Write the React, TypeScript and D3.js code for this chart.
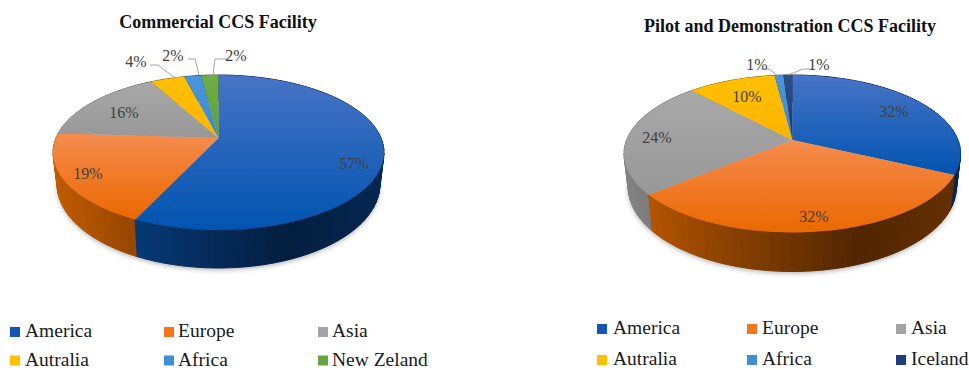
import React from "react";
import * as d3 from "d3";

// Shares shown on each pie, in percent, clockwise from twelve o'clock.
const commercialRegions = ["America", "Europe", "Asia", "Autralia", "Africa", "New Zeland"];
const commercialValues = [57, 19, 16, 4, 2, 2];
const pilotRegions = ["America", "Europe", "Asia", "Autralia", "Africa", "Iceland"];
const pilotValues = [32, 32, 24, 10, 1, 1];

const FONT = "'Liberation Serif', 'Times New Roman', serif";

type Fill = { top: string; bottom: string; wall: string; swatch: string };
const FILLS: Record<string, Fill> = {
  America: { top: "#4874c6", bottom: "#0054b0", wall: "#0a5cc0", swatch: "#1257b8" },
  Europe: { top: "#f68c4e", bottom: "#ea6800", wall: "#f27200", swatch: "#f8741a" },
  Asia: { top: "#a8a8a8", bottom: "#989898", wall: "#a5a5a5", swatch: "#a3a3a3" },
  Autralia: { top: "#ffc000", bottom: "#ffb400", wall: "#ffc000", swatch: "#ffc000" },
  Africa: { top: "#4a96dc", bottom: "#3a88d0", wall: "#3a88d0", swatch: "#3f8dd4" },
  "New Zeland": { top: "#70ad47", bottom: "#5f9e3a", wall: "#4e8a2e", swatch: "#68a540" },
  Iceland: { top: "#2f4f86", bottom: "#1a3a70", wall: "#123060", swatch: "#1c3f7c" },
};

// Wall brightness against horizontal position across the pie.
const wallShade = d3.scaleLinear().domain([0, 0.24, 0.7, 1]).range([0.8, 0.62, 0.33, 0.42]).clamp(true);

type PieLabel = { text: string; x: number; y: number; leader?: [number, number][] };

type Geometry = {
  id: string;
  cx: number;
  apexY: number;
  topY: number;
  frontY: number;
  rx: number;
  depth: number;
};

function projector(g: Geometry) {
  // Perspective map of the unit disc: the apex sits above the centre of the drawn ellipse.
  const b = g.apexY;
  const c = (2 * b - g.topY - g.frontY) / (g.frontY - g.topY);
  const a = b - g.topY + g.topY * c;
  const k = g.rx * Math.sqrt(1 - c * c);
  const top = (t: number): [number, number] => {
    const u = Math.sin(t);
    const v = -Math.cos(t);
    const den = 1 + c * v;
    return [g.cx + (k * u) / den, (b + a * v) / den];
  };
  const base = (t: number): [number, number] => {
    const [x, y] = top(t);
    const v = -Math.cos(t);
    return [g.cx + (x - g.cx) * 0.975, y + (g.depth * (1 + c)) / (1 + c * v)];
  };
  return { top, base, apex: [g.cx, b] as [number, number] };
}

function angles(start: number, end: number, stepDeg: number) {
  const n = Math.max(1, Math.ceil(((end - start) * 180) / Math.PI / stepDeg));
  return d3.range(n + 1).map((i) => start + ((end - start) * i) / n);
}

const line = d3.line<[number, number]>();

function Pie3D({ g, regions, values, labels }: { g: Geometry; regions: string[]; values: number[]; labels: PieLabel[] }) {
  const proj = projector(g);
  const slices = d3
    .pie<number>()
    .sort(null)
    .value((d) => d)(values);
  const outline = angles(0, 2 * Math.PI, 3);

  const walls = slices
    .flatMap((s) => {
      const region = regions[s.index];
      const ts = angles(s.startAngle, s.endAngle, 3);
      return ts.slice(1).map((t, i) => {
        const t0 = ts[i];
        const mid = (t + t0) / 2;
        const pos = (proj.top(mid)[0] - (g.cx - g.rx)) / (2 * g.rx);
        const col = d3.rgb(FILLS[region].wall);
        const shade = wallShade(pos);
        const fill = d3.rgb(col.r * shade, col.g * shade, col.b * shade).formatHex();
        return {
          key: `${region}-${i}`,
          order: -Math.cos(mid),
          fill,
          d: line([proj.top(t0), proj.top(t), proj.base(t), proj.base(t0)])! + "Z",
        };
      });
    })
    .sort((p, q) => p.order - q.order);

  return (
    <g>
      <defs>
        <filter id={`soft-${g.id}`} x="-10%" y="-10%" width="120%" height="120%">
          <feGaussianBlur stdDeviation="2.5" />
        </filter>
        {regions.map((r) => (
          <linearGradient key={r} id={`face-${g.id}-${r.replace(" ", "")}`} x1="0" y1="0" x2="0" y2="1">
            <stop offset="0" stopColor={FILLS[r].top} />
            <stop offset="1" stopColor={FILLS[r].bottom} />
          </linearGradient>
        ))}
      </defs>
      <path
        d={line(outline.map((t) => proj.base(t)))! + "Z"}
        transform="translate(0,2)"
        fill="#777"
        opacity={0.55}
        filter={`url(#soft-${g.id})`}
      />
      {walls.map((w) => (
        <path key={w.key} d={w.d} fill={w.fill} stroke={w.fill} strokeWidth={1} />
      ))}
      {slices.map((s) => {
        const region = regions[s.index];
        const pts = [proj.apex, ...angles(s.startAngle, s.endAngle, 2).map((t) => proj.top(t))];
        return (
          <path key={region} d={line(pts)! + "Z"} fill={`url(#face-${g.id}-${region.replace(" ", "")})`} />
        );
      })}
      {labels.map(
        (l, i) =>
          l.leader && <path key={i} d={line(l.leader)!} fill="none" stroke="#a6a6a6" strokeWidth={1} />,
      )}
      {labels.map((l, i) => (
        <text key={i} x={l.x} y={l.y} textAnchor="middle" fontFamily={FONT} fontSize={16} fill="#404040">
          {l.text}
        </text>
      ))}
    </g>
  );
}

function Legend({ regions, xs, textXs, rows, size }: { regions: string[]; xs: number[]; textXs: number[]; rows: number[]; size: number }) {
  return (
    <g>
      {regions.map((r, i) => {
        const col = i % 3;
        const row = Math.floor(i / 3);
        return (
          <g key={r}>
            <rect x={xs[col]} y={rows[row] - 10} width={10} height={10} fill={FILLS[r].swatch} />
            <text x={textXs[col]} y={rows[row]} fontFamily={FONT} fontSize={size} fill="#1a1a1a">
              {r}
            </text>
          </g>
        );
      })}
    </g>
  );
}

const leftGeometry: Geometry = { id: "commercial", cx: 218.5, apexY: 138, topY: 75, frontY: 230, rx: 165.5, depth: 38 };
const rightGeometry: Geometry = { id: "pilot", cx: 792.3, apexY: 140, topY: 75, frontY: 232.5, rx: 168.3, depth: 39 };

const leftLabels: PieLabel[] = [
  { text: "57%", x: 354, y: 169 },
  { text: "19%", x: 88, y: 179 },
  { text: "16%", x: 124, y: 118 },
  { text: "4%", x: 136, y: 67, leader: [[150, 65], [158, 65], [175, 78]] },
  { text: "2%", x: 173, y: 61, leader: [[188, 59], [195, 59], [199, 75]] },
  { text: "2%", x: 236, y: 61, leader: [[228, 59], [215, 59], [213, 75]] },
];
const rightLabels: PieLabel[] = [
  { text: "32%", x: 894, y: 117 },
  { text: "32%", x: 814, y: 222 },
  { text: "24%", x: 657, y: 143 },
  { text: "10%", x: 747, y: 102 },
  { text: "1%", x: 757, y: 70, leader: [[761, 69], [769, 69], [778, 76]] },
  { text: "1%", x: 819, y: 70, leader: [[813, 69], [803, 69], [788, 75]] },
];

export default function App() {
  return (
    <svg width={969} height={370} style={{ position: "absolute", left: 0, top: 0, background: "#fff" }}>
      <text x={218} y={28} textAnchor="middle" fontFamily={FONT} fontWeight="bold" fontSize={18} fill="#111">
        Commercial CCS Facility
      </text>
      <text x={790} y={32} textAnchor="middle" fontFamily={FONT} fontWeight="bold" fontSize={18} fill="#111">
        Pilot and Demonstration CCS Facility
      </text>
      <Pie3D g={leftGeometry} regions={commercialRegions} values={commercialValues} labels={leftLabels} />
      <Pie3D g={rightGeometry} regions={pilotRegions} values={pilotValues} labels={rightLabels} />
      <Legend regions={commercialRegions} xs={[10, 164, 318]} textXs={[25, 178, 332]} rows={[337, 365.5]} size={19.5} />
      <Legend regions={pilotRegions} xs={[597, 747, 896]} textXs={[613, 762, 911]} rows={[334, 365]} size={19.5} />
    </svg>
  );
}
